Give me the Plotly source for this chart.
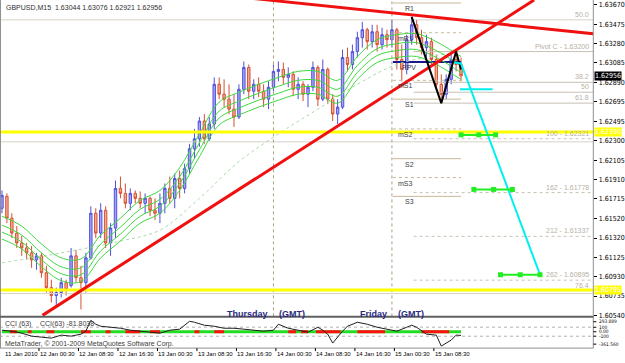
import pandas as pd
import plotly.graph_objects as go

# ---------------- data ----------------
bar_start = '2010-01-11 17:00'   # hourly bars
opens = [1.6162,1.6174,1.6152,1.6137,1.6127,1.6122,1.6117,1.6110,1.6114,1.6097,
         1.6082,1.6074,1.6077,1.6087,1.6084,1.6114,1.6092,1.6087,1.6112,1.6157,
         1.6137,1.6160,1.6127,1.6142,1.6182,1.6177,1.6167,1.6177,1.6172,1.6167,
         1.6172,1.6160,1.6157,1.6167,1.6182,1.6172,1.6192,1.6182,1.6202,1.6222,
         1.6232,1.6250,1.6232,1.6247,1.6287,1.6277,1.6272,1.6262,1.6254,1.6282,
         1.6304,1.6280,1.6287,1.6280,1.6272,1.6284,1.6300,1.6302,1.6294,1.6297,
         1.6282,1.6287,1.6277,1.6284,1.6304,1.6272,1.6302,1.6272,1.6257,1.6264,
         1.6314,1.6307,1.6320,1.6334,1.6342,1.6330,1.6340,1.6327,1.6337,1.6332,
         1.6342,1.6312,1.6302,1.6332,1.6347,1.6334,1.6324,1.6330,1.6312,1.6287,
         1.6277,1.6292,1.6312,1.6307]
highs = [1.6180,1.6177,1.6157,1.6144,1.6134,1.6127,1.6124,1.6117,1.6117,1.6104,
         1.6090,1.6082,1.6092,1.6090,1.6122,1.6120,1.6104,1.6117,1.6164,1.6162,
         1.6167,1.6164,1.6147,1.6190,1.6194,1.6187,1.6182,1.6180,1.6179,1.6177,
         1.6174,1.6172,1.6177,1.6187,1.6194,1.6197,1.6200,1.6207,1.6227,1.6242,
         1.6254,1.6257,1.6254,1.6294,1.6294,1.6292,1.6287,1.6277,1.6287,1.6310,
         1.6307,1.6292,1.6294,1.6287,1.6290,1.6307,1.6310,1.6309,1.6304,1.6300,
         1.6294,1.6290,1.6287,1.6310,1.6306,1.6312,1.6304,1.6277,1.6272,1.6322,
         1.6324,1.6327,1.6340,1.6350,1.6344,1.6347,1.6347,1.6344,1.6342,1.6352,
         1.6344,1.6327,1.6337,1.6355,1.6352,1.6342,1.6337,1.6334,1.6317,1.6297,
         1.6297,1.6317,1.6320,1.6314]
lows = [1.6157,1.6147,1.6132,1.6122,1.6114,1.6110,1.6102,1.6100,1.6092,1.6077,
        1.6067,1.6062,1.6072,1.6074,1.6082,1.6087,1.6060,1.6077,1.6110,1.6132,
        1.6132,1.6122,1.6114,1.6132,1.6172,1.6162,1.6160,1.6167,1.6162,1.6157,
        1.6154,1.6150,1.6147,1.6157,1.6167,1.6162,1.6172,1.6177,1.6197,1.6212,
        1.6224,1.6227,1.6230,1.6242,1.6272,1.6264,1.6257,1.6244,1.6252,1.6277,
        1.6272,1.6272,1.6274,1.6264,1.6262,1.6280,1.6290,1.6287,1.6284,1.6275,
        1.6272,1.6270,1.6264,1.6280,1.6265,1.6270,1.6267,1.6250,1.6247,1.6262,
        1.6300,1.6302,1.6314,1.6324,1.6322,1.6324,1.6320,1.6322,1.6324,1.6324,
        1.6302,1.6290,1.6297,1.6327,1.6327,1.6317,1.6312,1.6307,1.6282,1.6268,
        1.6272,1.6287,1.6300,1.6290]
closes = [1.6175,1.6152,1.6137,1.6127,1.6122,1.6117,1.6110,1.6114,1.6097,1.6082,
          1.6074,1.6077,1.6087,1.6080,1.6114,1.6092,1.6087,1.6112,1.6157,1.6137,
          1.6160,1.6127,1.6142,1.6182,1.6177,1.6167,1.6177,1.6172,1.6167,1.6172,
          1.6160,1.6157,1.6167,1.6182,1.6172,1.6192,1.6182,1.6202,1.6222,1.6232,
          1.6250,1.6232,1.6247,1.6287,1.6277,1.6272,1.6262,1.6254,1.6282,1.6304,
          1.6280,1.6287,1.6280,1.6272,1.6284,1.6300,1.6302,1.6294,1.6297,1.6282,
          1.6287,1.6277,1.6284,1.6304,1.6272,1.6302,1.6272,1.6257,1.6264,1.6314,
          1.6307,1.6320,1.6334,1.6342,1.6330,1.6340,1.6327,1.6337,1.6332,1.6342,
          1.6312,1.6302,1.6332,1.6347,1.6334,1.6324,1.6330,1.6312,1.6287,1.6277,
          1.6292,1.6312,1.6307,1.62956]

# moving-average envelope (centre line read at bar indices) and its offsets
ma_bars = [0,4,8,12,16,20,24,28,32,36,40,44,48,52,56,60,64,68,72,76,80,84,88,92,93]
ma_mid = [1.6141,1.6131,1.6113,1.6099,1.6098,1.6122,1.6139,1.6157,1.6167,1.6190,
          1.6224,1.6256,1.6266,1.6274,1.6281,1.6287,1.6287,1.6278,1.6302,1.6319,
          1.6324,1.6325,1.6317,1.6305,1.6302]
env_offsets = [0.0013, 0.0004, -0.0003, -0.0010]
long_ma_bars = [0,12,24,32,40,48,56,64,72,80,88,93]
long_ma = [1.6107,1.6117,1.6129,1.6140,1.6172,1.6209,1.6237,1.6262,1.6287,1.6307,1.6316,1.6320]

# pivot levels (Friday)
pivot_names = ['R1','mR1','PPV','mS1','S1','mS2','S2','mS3','S3']
pivot_levels = [1.6369,1.6339,1.63095,1.6291,1.6272,1.6242,1.6212,1.6193,1.6174]
pivot_label_times = ['2010-01-15 03:36','2010-01-15 02:48','2010-01-15 03:24','2010-01-15 02:48',
                     '2010-01-15 03:36','2010-01-15 02:48','2010-01-15 03:36','2010-01-15 02:48',
                     '2010-01-15 03:36']
pivot_start, pivot_end = '2010-01-15 00:12', '2010-01-15 14:00'

# fibonacci levels
fib_labels = ['Pivot C - 1.63200','38.2','50','61.8','100 - 1.62321','162 - 1.61778',
              '212 - 1.61337','262 - 1.60895','76.4']
fib_levels = [1.63200,1.6289,1.6279,1.6268,1.62321,1.61778,1.61337,1.60895,1.6079]
fib_start = '2010-01-15 04:24'
top_fib_label, top_fib_level = '50.0', 1.6352
thin_levels = [1.6229, 1.6076]
yellow_levels = [1.62390, 1.60795]

# trend lines
up_times, up_prices = ['2010-01-12 01:12', '2010-01-16 04:48'], [1.6054, 1.6372]
down_times, down_prices = ['2010-01-13 17:00', '2010-01-16 16:48'], [1.6375, 1.6338]
zig_times = ['2010-01-15 04:00','2010-01-15 10:00','2010-01-15 13:00','2010-01-15 14:00']
zig_prices = [1.6355, 1.6268, 1.6320, 1.6302]
proj_times = ['2010-01-15 12:36','2010-01-15 14:00','2010-01-16 06:00']
proj_prices = [1.6309, 1.6308, 1.6095]
cyan_h_times, cyan_h_price = ['2010-01-15 13:48','2010-01-15 20:24'], 1.6282
targets = [
    (['2010-01-15 14:00','2010-01-15 17:36','2010-01-15 21:00'], 1.6236),
    (['2010-01-15 16:36','2010-01-15 20:36','2010-01-16 00:24'], 1.6181),
    (['2010-01-15 22:00','2010-01-16 02:00','2010-01-16 06:00'], 1.6095),
]
day_sep_times = ['2010-01-14 00:00', '2010-01-15 00:00']
day_names = ['Thursday', 'Friday']

# CCI(63)
cci_bars = [0,2,4,6,8,10,12,14,16,17,18,19,20,22,24,26,28,30,32,34,36,38,39,41,43,45,47,49,
            51,53,55,56,58,60,62,64,65,66,67,69,70,72,74,76,78,80,82,83,84,86,88,89,91,92,93]
cci_vals = [33,11,-33,-98,-120,-142,-76,-98,-55,11,251,164,120,98,76,33,11,-11,-33,33,55,229,208,
            142,120,76,76,55,33,11,33,164,76,33,-11,98,33,-55,-251,11,120,208,164,98,55,11,98,142,
            98,-55,-76,-317,-186,-76,-82]
cci_red_spans = [(1.6,3),(5.2,6),(9,10.6),(16,18),(21,22),(25,28),(30,32),(39,40),(43,45),
                 (58,59.6),(60.6,62),(63.6,68.6),(72,77.6),(85,90.6)]
cci_max, cci_min = 293.889, -361.560

price_ticks = [1.63670,1.63475,1.63280,1.63085,1.62890,1.62695,1.62495,1.62300,1.62105,
               1.61910,1.61715,1.61520,1.61320,1.61125,1.60930,1.60735,1.60540]
xlabel_times = ['2010-01-12 00:30','2010-01-12 08:30','2010-01-12 16:30','2010-01-13 00:30',
                '2010-01-13 08:30','2010-01-13 16:30','2010-01-14 00:30','2010-01-14 08:30',
                '2010-01-14 16:30','2010-01-15 00:30','2010-01-15 08:30']
xlabel_text = ['12 Jan 00:30','12 Jan 08:30','12 Jan 16:30','13 Jan 00:30','13 Jan 08:30',
               '13 Jan 16:30','14 Jan 00:30','14 Jan 08:30','14 Jan 16:30','15 Jan 00:30',
               '15 Jan 08:30']
x_range = ['2010-01-11 16:36', '2010-01-16 16:48']
y_range = [1.6053, 1.6372]

# ---------------- figure ----------------
W, H = 625, 363
def px(x): return x / W
def py(y): return 1 - y / H

FONT = 'Liberation Sans Narrow, Arial Narrow, DejaVu Sans Condensed, Liberation Sans, sans-serif'
FONTW = 'Liberation Sans, Arial, sans-serif'
times = pd.date_range(bar_start, periods=len(opens), freq='h')
bt = lambda idx: [times[i] for i in idx]

fig = go.Figure()
NOH = dict(hoverinfo='skip', showlegend=False)

for lv in thin_levels + [top_fib_level]:
    fig.add_trace(go.Scatter(x=x_range, y=[lv, lv], mode='lines',
                             line=dict(color='#d8d2c8', width=1), **NOH))
for lab, lv in zip(fib_labels, fib_levels):
    dash = 'solid' if lab in ('Pivot C - 1.63200', '38.2', '50', '61.8') else 'dot'
    fig.add_trace(go.Scatter(x=[fib_start, x_range[1]], y=[lv, lv], mode='lines',
                             line=dict(color='#c8c0b4', width=1, dash=dash), **NOH))
for name, lv in zip(pivot_names, pivot_levels):
    if name == 'PPV':
        ln = dict(color='#1a1a8c', width=2)
    elif name.startswith('m'):
        ln = dict(color='#c8b89a', width=1, dash='dot')
    else:
        ln = dict(color='#c8b89a', width=1)
    fig.add_trace(go.Scatter(x=[pivot_start, pivot_end], y=[lv, lv], mode='lines', line=ln, **NOH))
for t in day_sep_times:
    fig.add_trace(go.Scatter(x=[t, t], y=y_range, mode='lines',
                             line=dict(color='#a8a080', width=1, dash='dot'), **NOH))

fig.add_trace(go.Candlestick(x=times, open=opens, high=highs, low=lows, close=closes,
                             increasing=dict(line=dict(color='#5050dc', width=1), fillcolor='#a4a4f6'),
                             decreasing=dict(line=dict(color='#d65030', width=1), fillcolor='#f2ac96'),
                             whiskerwidth=0, hoverinfo='skip', showlegend=False))

fig.add_trace(go.Scatter(x=bt(long_ma_bars), y=long_ma, mode='lines', line_shape='spline',
                         line=dict(color='#a8dca8', width=1, dash='dot'), **NOH))
for off in env_offsets:
    fig.add_trace(go.Scatter(x=bt(ma_bars), y=[m + off for m in ma_mid], mode='lines',
                             line_shape='spline', line=dict(color='#3ed83e', width=1), **NOH))

for lv in yellow_levels:
    fig.add_trace(go.Scatter(x=x_range, y=[lv, lv], mode='lines',
                             line=dict(color='#ffff00', width=3), **NOH))
fig.add_trace(go.Scatter(x=up_times, y=up_prices, mode='lines', line=dict(color='#f01010', width=3), **NOH))
fig.add_trace(go.Scatter(x=down_times, y=down_prices, mode='lines', line=dict(color='#f01010', width=3), **NOH))
fig.add_trace(go.Scatter(x=zig_times, y=zig_prices, mode='lines', line=dict(color='#000000', width=2), **NOH))
fig.add_trace(go.Scatter(x=proj_times, y=proj_prices, mode='lines', line=dict(color='#00f0f0', width=2), **NOH))
fig.add_trace(go.Scatter(x=cyan_h_times, y=[cyan_h_price]*2, mode='lines', line=dict(color='#00f0f0', width=2), **NOH))
for tt, lv in targets:
    fig.add_trace(go.Scatter(x=tt, y=[lv]*len(tt), mode='lines+markers',
                             line=dict(color='#22ee22', width=2),
                             marker=dict(symbol='square', size=5, color='#22ee22'), **NOH))

# CCI panel
for lv in (100, -100):
    fig.add_trace(go.Scatter(x=x_range, y=[lv, lv], mode='lines', xaxis='x2', yaxis='y2',
                             line=dict(color='#b0b0b0', width=1, dash='dot'), **NOH))
fig.add_trace(go.Scatter(x=[times[0], times[-1]], y=[0, 0], mode='lines', xaxis='x2', yaxis='y2',
                         line=dict(color='#22dd22', width=3), **NOH))
rx, ry = [], []
for a, b in cci_red_spans:
    rx += [times[0] + pd.Timedelta(hours=a), times[0] + pd.Timedelta(hours=b), None]
    ry += [0, 0, None]
fig.add_trace(go.Scatter(x=rx, y=ry, mode='lines', xaxis='x2', yaxis='y2',
                         line=dict(color='#ff1010', width=3), **NOH))
fig.add_trace(go.Scatter(x=bt(cci_bars), y=cci_vals, mode='lines', xaxis='x2', yaxis='y2',
                         line=dict(color='#202020', width=1), **NOH))

main_dom = [py(319), 1]
cci_dom = [py(351), py(321)]
xd = [0, px(601)]

ann = []
def A(**kw):
    base = dict(showarrow=False, font=dict(family=FONTW, size=7, color='#303030'))
    base.update(kw)
    ann.append(base)

A(text='GBPUSD,M15  1.63044 1.63076 1.62921 1.62956', xref='paper', yref='paper',
  x=px(4), y=py(8), xanchor='left', yanchor='middle')
for name, lv, t in zip(pivot_names, pivot_levels, pivot_label_times):
    A(text=name, xref='x', yref='y', x=t, y=lv, xanchor='center', yanchor='top',
      font=dict(family=FONTW, size=7, color='#404040'))
A(text=top_fib_label, xref='paper', yref='y', x=px(599), y=top_fib_level, xanchor='right',
  yanchor='bottom', font=dict(family=FONTW, size=7, color='#b8b0a4'))
for lab, lv in zip(fib_labels, fib_levels):
    A(text=lab, xref='paper', yref='y', x=px(599), y=lv, xanchor='right', yanchor='bottom',
      font=dict(family=FONTW, size=7, color='#b8b0a4'))
for t, name in zip(day_sep_times, day_names):
    A(text='<b>%s</b>' % name, xref='x', yref='paper', x=t, y=py(317), xanchor='right',
      yanchor='middle', xshift=-3, font=dict(family=FONTW, size=9, color='#2a2a80'))
    A(text='<b>(GMT)</b>', xref='x', yref='paper', x=t, y=py(317), xanchor='left',
      yanchor='middle', xshift=4, font=dict(family=FONTW, size=9, color='#2a2a80'))
A(text=f'{closes[-1]:.5f}', xref='paper', yref='y', x=px(602), y=closes[-1], xanchor='left',
  yanchor='middle', bgcolor='#000000', borderpad=0, font=dict(family=FONT, size=7, color='#ffffff'))
for lv in yellow_levels:
    A(text=f'{lv:.5f}', xref='paper', yref='y', x=px(602), y=lv, xanchor='left', yanchor='middle',
      bgcolor='#ffff00', borderpad=0, font=dict(family=FONT, size=7, color='#ffffff'))
A(text='CCI (63)', xref='paper', yref='paper', x=px(3), y=py(327), xanchor='left', yanchor='middle',
  font=dict(family=FONTW, size=7, color='#404040'))
A(text='CCI(63) %.4f' % -81.8038, xref='paper', yref='paper', x=px(38), y=py(327), xanchor='left',
  yanchor='middle', font=dict(family=FONTW, size=7, color='#404040'))
A(text='MetaTrader, © 2001-2009 MetaQuotes Software Corp.', xref='paper', yref='paper', x=px(3),
  y=py(347), xanchor='left', yanchor='middle', font=dict(family=FONTW, size=7, color='#404040'))
# CCI scale labels (small, stacked like the original)
cci_label_text = [f'{cci_max:.3f}', '100', '0.00', '-100', f'{cci_min:.3f}']
cci_label_px = [324.4, 330.0, 334.5, 339.0, 347]
for s, yy in zip(cci_label_text, cci_label_px):
    A(text=s, xref='paper', yref='paper', x=px(605), y=py(yy), xanchor='left', yanchor='middle',
      font=dict(family=FONT, size=4.8, color='#000000'))
A(text='11 Jan 2010', xref='paper', yref='paper', x=px(3), y=py(357), xanchor='left', yanchor='middle',
  font=dict(family=FONTW, size=6, color='#000000'))
for t, s in zip(xlabel_times, xlabel_text):
    A(text=s, xref='x', yref='paper', x=t, y=py(357), xanchor='left', yanchor='middle', xshift=-1,
      font=dict(family=FONTW, size=6, color='#000000'))

shapes = [
    dict(type='line', xref='paper', yref='paper', x0=px(0.5), x1=px(0.5), y0=py(351), y1=1,
         line=dict(color='#909090', width=1)),
    dict(type='line', xref='paper', yref='paper', x0=px(601), x1=px(601), y0=py(351), y1=1,
         line=dict(color='#909090', width=1)),
    dict(type='line', xref='paper', yref='paper', x0=0, x1=px(601), y0=py(319.5), y1=py(319.5),
         line=dict(color='#606060', width=2)),
    dict(type='line', xref='paper', yref='paper', x0=0, x1=px(601), y0=py(351), y1=py(351),
         line=dict(color='#909090', width=1)),
]
for yy in cci_label_px:
    shapes.append(dict(type='line', xref='paper', yref='paper', x0=px(601), x1=px(604),
                       y0=py(yy), y1=py(yy), line=dict(color='#000000', width=1)))
for t in xlabel_times:
    shapes.append(dict(type='line', xref='x', yref='paper', x0=t, x1=t, y0=py(351), y1=py(354),
                       line=dict(color='#000000', width=1)))

fig.update_layout(
    width=W, height=H, margin=dict(l=0, r=0, t=0, b=0),
    paper_bgcolor='white', plot_bgcolor='white', showlegend=False,
    annotations=ann, shapes=shapes,
    xaxis=dict(domain=xd, range=x_range, type='date', showgrid=False, zeroline=False,
               showticklabels=False, ticks='', rangeslider=dict(visible=False), anchor='y'),
    yaxis=dict(domain=main_dom, range=y_range, side='right', showgrid=False, zeroline=False,
               tickvals=price_ticks, ticktext=[f'{v:.5f}' for v in price_ticks],
               ticks='outside', ticklen=3, tickcolor='#000000',
               tickfont=dict(family=FONT, size=7, color='#000000'), anchor='x'),
    xaxis2=dict(domain=xd, range=x_range, type='date', matches='x', showgrid=False, zeroline=False,
                showticklabels=False, ticks='', anchor='y2'),
    yaxis2=dict(domain=cci_dom, range=[cci_min, cci_max], side='right', showgrid=False, zeroline=False,
                showticklabels=False, ticks='', anchor='x2'),
)

fig.write_html('out.html')
